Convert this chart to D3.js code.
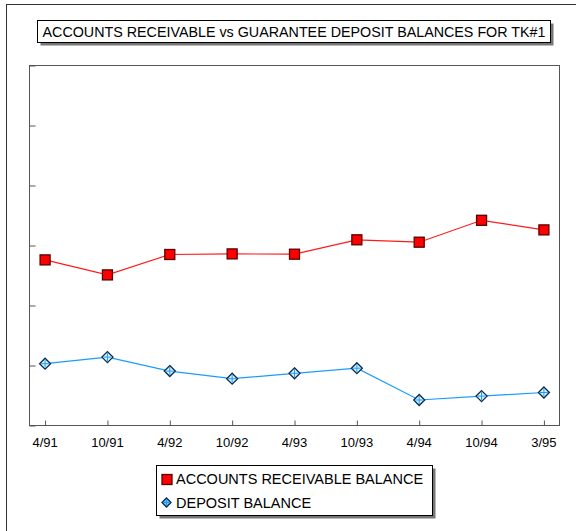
<!DOCTYPE html>
<html><head><meta charset="utf-8">
<script src="https://cdn.jsdelivr.net/npm/d3@7"></script>
<style>body{margin:0;background:#fff;}svg{display:block;font-family:"Liberation Sans",Arial,sans-serif;}</style>
</head><body>
<svg id="c" width="576" height="531"></svg>
<script>
const title = "ACCOUNTS RECEIVABLE vs GUARANTEE DEPOSIT BALANCES FOR TK#1";
const categories = ["4/91","10/91","4/92","10/92","4/93","10/93","4/94","10/94","3/95"];
const receivable = [27.6, 25.1, 28.5, 28.6, 28.55, 30.95, 30.55, 34.2, 32.6];
const deposit = [10.3, 11.4, 9.07, 7.8, 8.7, 9.55, 4.25, 4.9, 5.5];
const yTicks = [0, 10, 20, 30, 40, 50, 60];
const seriesNames = ["ACCOUNTS RECEIVABLE BALANCE", "DEPOSIT BALANCE"];

const svg = d3.select("#c");
// outer frame
svg.append("rect").attr("x",6.5).attr("y",4.5).attr("width",640).attr("height",600)
  .attr("fill","none").attr("stroke","#333").attr("stroke-width",1);

// title box
const tb = {x:37.5, y:20.5, w:513, h:22};
svg.append("rect").attr("x",tb.x+3).attr("y",tb.y+3).attr("width",tb.w).attr("height",tb.h).attr("fill","#777");
svg.append("rect").attr("x",tb.x).attr("y",tb.y).attr("width",tb.w).attr("height",tb.h).attr("fill","#fff").attr("stroke","#000");
svg.append("text").attr("x",tb.x+tb.w/2).attr("y",tb.y+16).attr("text-anchor","middle")
  .attr("font-size",14.3).attr("fill","#000").text(title);

const L=29.5, R=559.5, T=65.5, B=425.5;
const x = d3.scalePoint().domain(categories).range([L,R]).padding(0.25);
const y = d3.scaleLinear().domain([0,60]).range([B,T]);

// plot frame
svg.append("rect").attr("x",L).attr("y",T).attr("width",R-L).attr("height",B-T)
  .attr("fill","none").attr("stroke","#555");

// y ticks (inside)
const ya = svg.append("g").attr("transform",`translate(${L},0)`)
  .call(d3.axisRight(y).tickValues(yTicks).tickSize(6).tickFormat(""));
ya.select(".domain").remove();
ya.selectAll("line").attr("stroke","#555");

// x ticks (inside) and labels
const xa = svg.append("g").attr("transform",`translate(0,${B})`)
  .call(d3.axisTop(x).tickSize(5).tickFormat(""));
xa.select(".domain").remove();
xa.selectAll("line").attr("stroke","#555");
svg.append("g").selectAll("text").data(categories).join("text")
  .attr("x",d=>x(d)).attr("y",447).attr("text-anchor","middle")
  .attr("font-size",13).attr("fill","#000").text(d=>d);

const line = d3.line().x((d,i)=>x(categories[i])).y(d=>y(d));
svg.append("path").datum(receivable).attr("d",line).attr("fill","none").attr("stroke","#ff1a1a").attr("stroke-width",1.2);
svg.append("path").datum(deposit).attr("d",line).attr("fill","none").attr("stroke","#1a9cff").attr("stroke-width",1.2);

function square(g, cx, cy, s){
  g.append("rect").attr("x",cx-s/2).attr("y",cy-s/2).attr("width",s).attr("height",s)
   .attr("fill","#ff0000").attr("stroke","#5a0000").attr("stroke-width",1.3);
}
function diamond(g, cx, cy, r, fill){
  g.append("path").attr("d",`M${cx},${cy-r}L${cx+r},${cy}L${cx},${cy+r}L${cx-r},${cy}Z`)
   .attr("fill",fill).attr("stroke","#0a2a4a").attr("stroke-width",1.3);
  g.append("path").attr("d",`M${cx-r+1.5},${cy}H${cx+r-1.5}M${cx},${cy-r+1.5}V${cy+r-1.5}`)
   .attr("stroke","#1a9cff").attr("stroke-width",1);
}
const mk = svg.append("g");
receivable.forEach((v,i)=>square(mk, x(categories[i]), y(v), 10));
deposit.forEach((v,i)=>diamond(mk, x(categories[i]), y(v), 5.5, "#d8f0ff"));

// legend
const lg = {x:156.5, y:465.5, w:276, h:50};
svg.append("rect").attr("x",lg.x+3).attr("y",lg.y+3).attr("width",lg.w).attr("height",lg.h).attr("fill","#777");
svg.append("rect").attr("x",lg.x).attr("y",lg.y).attr("width",lg.w).attr("height",lg.h).attr("fill","#fff").attr("stroke","#000");
const lgg = svg.append("g");
square(lgg, 167, 479.5, 10);
diamond(lgg, 166.5, 502.5, 4.5, "#6cc4ff");
svg.append("g").selectAll("text").data(seriesNames).join("text")
  .attr("x",176).attr("y",(d,i)=>484+i*24).attr("font-size",14.5).attr("fill","#000").text(d=>d);
</script>
</body></html>
